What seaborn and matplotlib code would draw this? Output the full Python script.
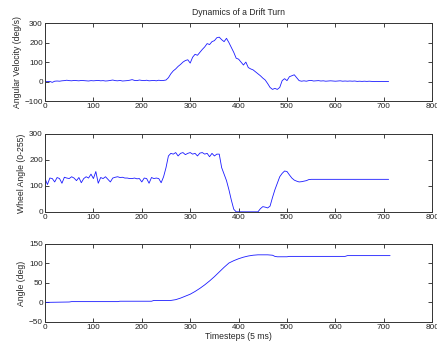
import numpy as np
import pandas as pd
import matplotlib
matplotlib.use("Agg")
import matplotlib.pyplot as plt
import seaborn as sns

# ---- data ----
timesteps = list(range(0, 715, 5))

angular_velocity = [
    0, 0, 1, -4, 2, 3, 2, 4, 5, 7, 5, 4, 6, 5, 4, 6, 5, 4, 3, 5,
    4, 5, 6, 4, 5, 3, 4, 6, 8, 5, 4, 6, 3, 4, 5, 7, 10, 6, 5, 8,
    6, 5, 7, 4, 5, 6, 4, 7, 5, 6,
    8, 20, 40, 55, 65, 78, 88, 100, 108, 112, 95, 125, 140, 135, 150, 165, 178, 195, 190, 205,
    210, 225, 228, 215, 205, 222, 200, 175, 150, 120, 115, 100, 85, 100, 72, 65, 60, 50, 40, 30,
    18, 8, -10, -30, -40, -35, -40, -30, 5, 15, 5, 25, 30, 35, 20, 5, 2, 4, 2, 5,
    6, 3, 4, 5, 3, 4, 2, 3, 4, 3, 2, 3, 4, 2, 3, 2, 3, 2, 3, 1,
    2, 1, 2, 1, 2, 1, 0, 1, 0, 1, 0, 1, 0,
]

wheel_angle = [
    128, 105, 130, 128, 115, 132, 128, 110, 133, 130, 128, 135, 130, 120, 132, 112, 128, 135, 130, 145,
    128, 155, 110, 132, 128, 135, 125, 115, 130, 133, 135, 132, 133, 130, 130, 128, 128, 130, 127, 128,
    115, 130, 128, 110, 132, 128, 130, 128, 112,
    135, 170, 215, 225, 222, 228, 215, 225, 228, 220, 225, 228, 222, 225, 215, 226, 228, 222, 225, 212,
    225, 215, 222, 222, 170, 145, 120, 85, 45, 10, 0,
    0, 0, 0, 0, 0, 0, 0, 0, 0,
    12, 20, 18, 15, 22, 55, 85, 110, 135, 148, 157, 155, 142, 130, 122, 118, 115, 116, 118, 120,
    124, 125,
] + [125] * 32

angle_t = [0, 50, 55, 150, 155, 220, 225, 260, 270, 280, 290, 300, 310, 320, 330, 340, 350, 360,
           370, 380, 390, 400, 410, 420, 430, 440, 450, 460, 470, 475, 480, 500, 505, 620, 625, 713]
angle_deg = [0, 1, 2, 2, 3, 3, 5, 5, 7, 11, 16, 21, 28, 36, 45, 55, 66, 78,
             90, 101, 107, 112, 116, 119, 121, 122, 122, 122, 121, 118, 117, 117, 118, 118, 120, 120]

assert len(angular_velocity) == len(timesteps), len(angular_velocity)
assert len(wheel_angle) == len(timesteps), len(wheel_angle)

df1 = pd.DataFrame({"t": timesteps, "v": angular_velocity})
df2 = pd.DataFrame({"t": timesteps, "v": wheel_angle})
df3 = pd.DataFrame({"t": angle_t, "v": angle_deg})

sns.set_theme(style="white")
plt.rcParams["font.family"] = ["Liberation Sans", "DejaVu Sans"]
plt.rcParams.update({
    "xtick.direction": "in", "ytick.direction": "in",
    "xtick.top": True, "ytick.right": True,
    "xtick.bottom": True, "ytick.left": True,
    "xtick.major.size": 3, "ytick.major.size": 3,
    "xtick.major.width": 0.6, "ytick.major.width": 0.6,
    "xtick.color": "#222222", "ytick.color": "#222222",
    "xtick.labelsize": 5.9, "ytick.labelsize": 5.9,
    "axes.edgecolor": "#333333", "axes.linewidth": 0.7,
    "xtick.major.pad": 1.5, "ytick.major.pad": 1.5,
})

fig = plt.figure(figsize=(4.37, 3.45), dpi=100)
left, width, height = 0.103, 0.886, 0.226
specs = [
    (0.707, df1, (-100, 300), [-100, 0, 100, 200, 300], "Angular Velocity (deg/s)"),
    (0.386, df2, (0, 300), [0, 100, 200, 300], "Wheel Angle (0-255)"),
    (0.067, df3, (-50, 150), [-50, 0, 50, 100, 150], "Angle (deg)"),
]
axes = []
for bottom, df, ylim, yt, ylabel in specs:
    ax = fig.add_axes([left, bottom, width, height])
    sns.lineplot(data=df, x="t", y="v", ax=ax, color="#1a1aff", linewidth=0.6)
    ax.set_xlim(0, 800)
    ax.set_ylim(*ylim)
    ax.set_xticks(range(0, 801, 100))
    ax.set_yticks(yt)
    ax.set_xlabel("")
    ax.set_ylabel(ylabel, fontsize=6.2, labelpad=2)
    for s in ax.spines.values():
        s.set_visible(True)
    axes.append(ax)

axes[0].set_title("Dynamics of a Drift Turn", fontsize=6.2, pad=6)
axes[2].set_xlabel("Timesteps (5 ms)", fontsize=6.2, labelpad=1)

fig.savefig("out.png", dpi=100)
